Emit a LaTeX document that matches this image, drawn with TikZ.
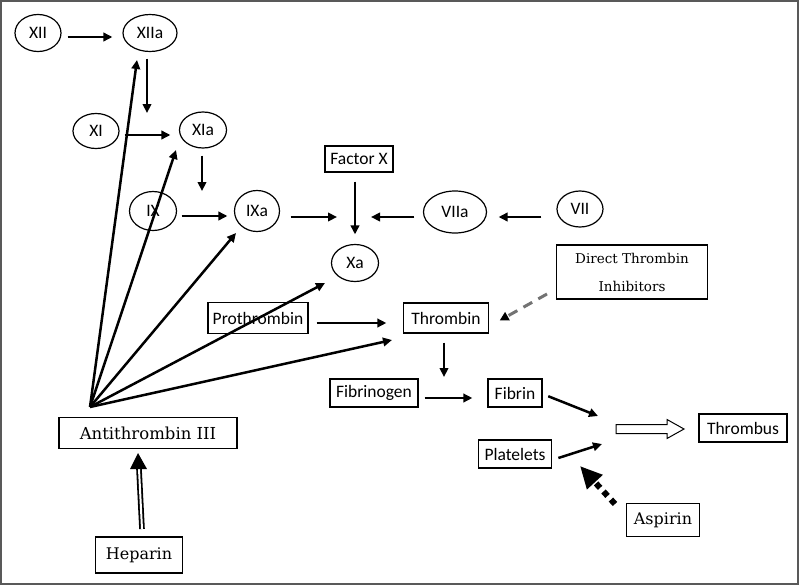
\documentclass[tikz,border=0pt]{standalone}
\usepackage{fontspec}
\setmainfont{DejaVu Serif}
\newfontfamily\cbfont{Carlito}
\usetikzlibrary{arrows.meta,shapes.geometric}
\begin{document}
\begin{tikzpicture}[x=1pt,y=-1pt,
  ell/.style={draw, ellipse, line width=1.2pt, inner sep=0pt, minimum width=48pt, minimum height=37pt,
    font=\cbfont\fontsize{17.5}{20}\selectfont},
  bx/.style={draw, rectangle, line width=1.3pt, inner sep=0pt,
    font=\cbfont\fontsize{17.5}{20}\selectfont},
  sbx/.style={draw, rectangle, line width=1.3pt, inner sep=0pt,
    font=\fontsize{16}{20}\selectfont},
  arr/.style={line width=2.5pt, -{Triangle[length=9pt,width=8.5pt]}},
  frame/.style={draw=black!65, line width=2pt},
]
\useasboundingbox (0,0) rectangle (800,586);
\draw[frame] (1,1) rectangle (798,584);

% ellipses
\node[ell, minimum width=46pt, minimum height=37pt] (XII) at (38,33) {XII};
\node[ell, minimum width=54pt, minimum height=37pt] (XIIa) at (150,33) {XIIa};
\node[ell, minimum width=46pt, minimum height=35pt] (XI) at (96,131) {XI};
\node[ell, minimum width=47pt, minimum height=36pt] (XIa) at (203,130) {XIa};
\node[ell, minimum width=47pt, minimum height=39pt] (IX) at (153,211) {IX};
\node[ell, minimum width=45pt, minimum height=41pt] (IXa) at (257,211) {IXa};
\node[ell, minimum width=47pt, minimum height=37pt] (Xa) at (355,263) {Xa};
\node[ell, minimum width=63pt, minimum height=42pt] (VIIa) at (455,212) {VIIa};
\node[ell, minimum width=46pt, minimum height=36pt] (VII) at (580,209) {VII};

% sans boxes
\node[bx, minimum width=68pt, minimum height=26pt] (FX) at (359,159) {Factor X};
\node[bx, minimum width=85pt, minimum height=30pt] (Thr) at (446,318) {Thrombin};
\node[bx, minimum width=100pt, minimum height=31pt] (Pro) at (258,318) {Prothrombin};
\node[bx, minimum width=88pt, minimum height=28pt] (Fbg) at (374,393) {Fibrinogen};
\node[bx, minimum width=54pt, minimum height=28pt] (Fib) at (515,393) {Fibrin};
\node[bx, minimum width=73pt, minimum height=28pt] (Plt) at (515,454) {Platelets};
\node[bx, minimum width=88pt, minimum height=28pt] (Tbs) at (743,428) {Thrombus};

% serif boxes
\node[sbx, minimum width=151pt, minimum height=54pt, align=center,
  font=\fontsize{13.5}{28}\selectfont] (DTI) at (632,272) {Direct Thrombin\\Inhibitors};
\node[sbx, minimum width=73pt, minimum height=33pt] (Asp) at (663,520) {Aspirin};
\node[sbx, minimum width=178pt, minimum height=31pt, font=\fontsize{16.5}{20}\selectfont] (AT) at (148,433) {Antithrombin III};
\node[sbx, minimum width=87pt, minimum height=36pt] (Hep) at (139,555) {Heparin};

% junction coordinates
\coordinate (j12) at (147,113);
\coordinate (j11) at (202,191);
\coordinate (j9) at (337,217);
\coordinate (j7) at (371,217);
\coordinate (j13) at (444,377);
\coordinate (mf) at (598,416);
\coordinate (mp) at (602,444);
\coordinate (at0) at (90,407);
\coordinate (t1) at (137,60);
\coordinate (t2) at (176,150);
\coordinate (t3) at (236,233);
\coordinate (t4) at (325,283);
\coordinate (t5) at (392,340);
\coordinate (hp0) at (142,529);
\coordinate (hp1) at (139,469);
\coordinate (hpt) at (138,453);
\coordinate (asp0) at (615,504);
\coordinate (asp1) at (580,466);
\coordinate (dti0) at (547,294);
\coordinate (dti1) at (497,322);

% cascade arrows
\draw[arr, shorten <=6pt, shorten >=10pt] ([yshift=-4pt]XII.east) -- ([yshift=-4pt]XIIa.west);
\draw[arr, shorten <=6.5pt] ([xshift=-3pt]XIIa.south) -- (j12);
\draw[arr, shorten <=5pt, shorten >=8.5pt] ([yshift=-4pt]XI.east) -- ([yshift=-5pt]XIa.west);
\draw[arr, shorten <=7pt] ([xshift=-1pt]XIa.south) -- (j11);
\draw[arr, shorten <=4.5pt, shorten >=6.5pt] ([yshift=-5pt]IX.east) -- ([yshift=-5pt]IXa.west);
\draw[arr, shorten <=10.5pt] ([yshift=-6pt]IXa.east) -- (j9);
\draw[arr, shorten <=9pt, shorten >=9.5pt] ([xshift=-4pt]FX.south) -- (Xa.north);
\draw[arr, shorten <=8.5pt] ([yshift=-5pt]VIIa.west) -- (j7);
\draw[arr, shorten <=15pt, shorten >=11.5pt] ([yshift=-8pt]VII.west) -- ([yshift=-5pt]VIIa.east);
\draw[arr, shorten <=8pt, shorten >=16.5pt] ([yshift=-5pt]Pro.east) -- ([yshift=-5pt]Thr.west);
\draw[arr, shorten <=9pt] ([xshift=-2pt]Thr.south) -- (j13);
\draw[arr, shorten <=6pt, shorten >=15pt] ([yshift=-5pt]Fbg.east) -- ([yshift=-5pt]Fib.west);
\draw[arr, shorten <=6pt] ([yshift=-1pt]Fib.east) -- (mf);
\draw[arr, shorten <=6.5pt] ([yshift=-6pt]Plt.east) -- (mp);

% antithrombin inhibition lines
\foreach \t in {t1,t2,t3,t4,t5} \draw[arr] (at0) -- (\t);

% hollow arrow to thrombus
\draw[line width=1pt, fill=white] (616,424.5) -- (667,424.5) -- (667,419.5) -- (684,429)
  -- (667,438.5) -- (667,433.5) -- (616,433.5) -- cycle;

% heparin arrow
\draw[line width=1.8pt, double=white, double distance=2pt] (hp0) -- (hp1);
\fill (hpt) -- (130,469) -- (147,469) -- cycle;

% aspirin arrow
\draw[line width=6pt, dash pattern=on 6pt off 5pt, -{Triangle[length=22pt,width=20pt]}] (asp0) -- (asp1);

% direct thrombin inhibitors arrow
\draw[draw=black!55, line width=3pt, dash pattern=on 10pt off 7pt,
  -{Triangle[length=9pt,width=9pt,sep=3pt,color=black]}] (dti0) -- (dti1);
\end{tikzpicture}
\end{document}
